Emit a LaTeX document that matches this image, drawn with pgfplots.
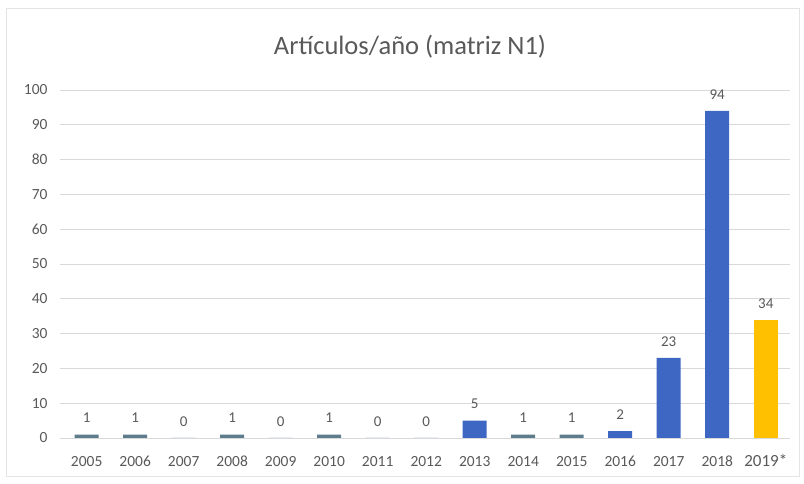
\documentclass[border=0pt]{standalone}
\usepackage{fontspec}
\setmainfont{Carlito}
\usepackage{pgfplots}
\pgfplotsset{compat=1.18}
\definecolor{barblue}{HTML}{3D67C2}
\definecolor{thinbar}{HTML}{5E7D8C}
\definecolor{baryellow}{HTML}{FFC000}
\definecolor{gridgray}{HTML}{D9D9D9}
\definecolor{txtgray}{HTML}{595959}
\begin{document}
\begin{tikzpicture}[x=1pt,y=1pt]
\path (0,0) rectangle (804,484);
\draw[gridgray!70,line width=0.6pt] (6,8) rectangle (799,476);
\node[font=\fontsize{26.5}{29}\selectfont,text=txtgray] at (410,437) {Artículos/año (matriz N1)};
\begin{axis}[
  at={(60pt,46pt)}, anchor=south west,
  scale only axis,
  width=730pt, height=348pt,
  xmin=-0.55, xmax=14.5,
  ymin=0, ymax=100,
  ytick={0,10,...,100},
  xtick={0,...,14},
  xticklabels={2005,2006,2007,2008,2009,2010,2011,2012,2013,2014,2015,2016,2017,2018,\fontsize{17}{18}\selectfont 2019*},
  axis line style={draw=none},
  ymajorgrids,
  grid style={draw=gridgray,line width=0.7pt},
  major tick length=0pt,
  tick label style={font=\fontsize{15.5}{17}\selectfont,text=txtgray},
  /pgf/number format/assume math mode=true,
  xticklabel style={anchor=base,yshift=-29pt},
  yticklabel style={xshift=-9pt},
  ybar, bar width=24pt,
  nodes near coords,
  every node near coord/.append style={font=\fontsize{15}{17}\selectfont,text=txtgray,yshift=8pt},
]
  \addplot[fill=barblue,draw=none,bar shift=0pt] coordinates {
    (2,0) (4,0) (6,0) (7,0) (8,5) (11,2) (12,23) (13,94)
  };
  \addplot[fill=thinbar,draw=none,bar shift=0pt] coordinates {
    (0,1) (1,1) (3,1) (5,1) (9,1) (10,1)
  };
  \addplot[fill=baryellow,draw=none,bar shift=0pt] coordinates {
    (14,34)
  };
\end{axis}
\end{tikzpicture}
\end{document}
